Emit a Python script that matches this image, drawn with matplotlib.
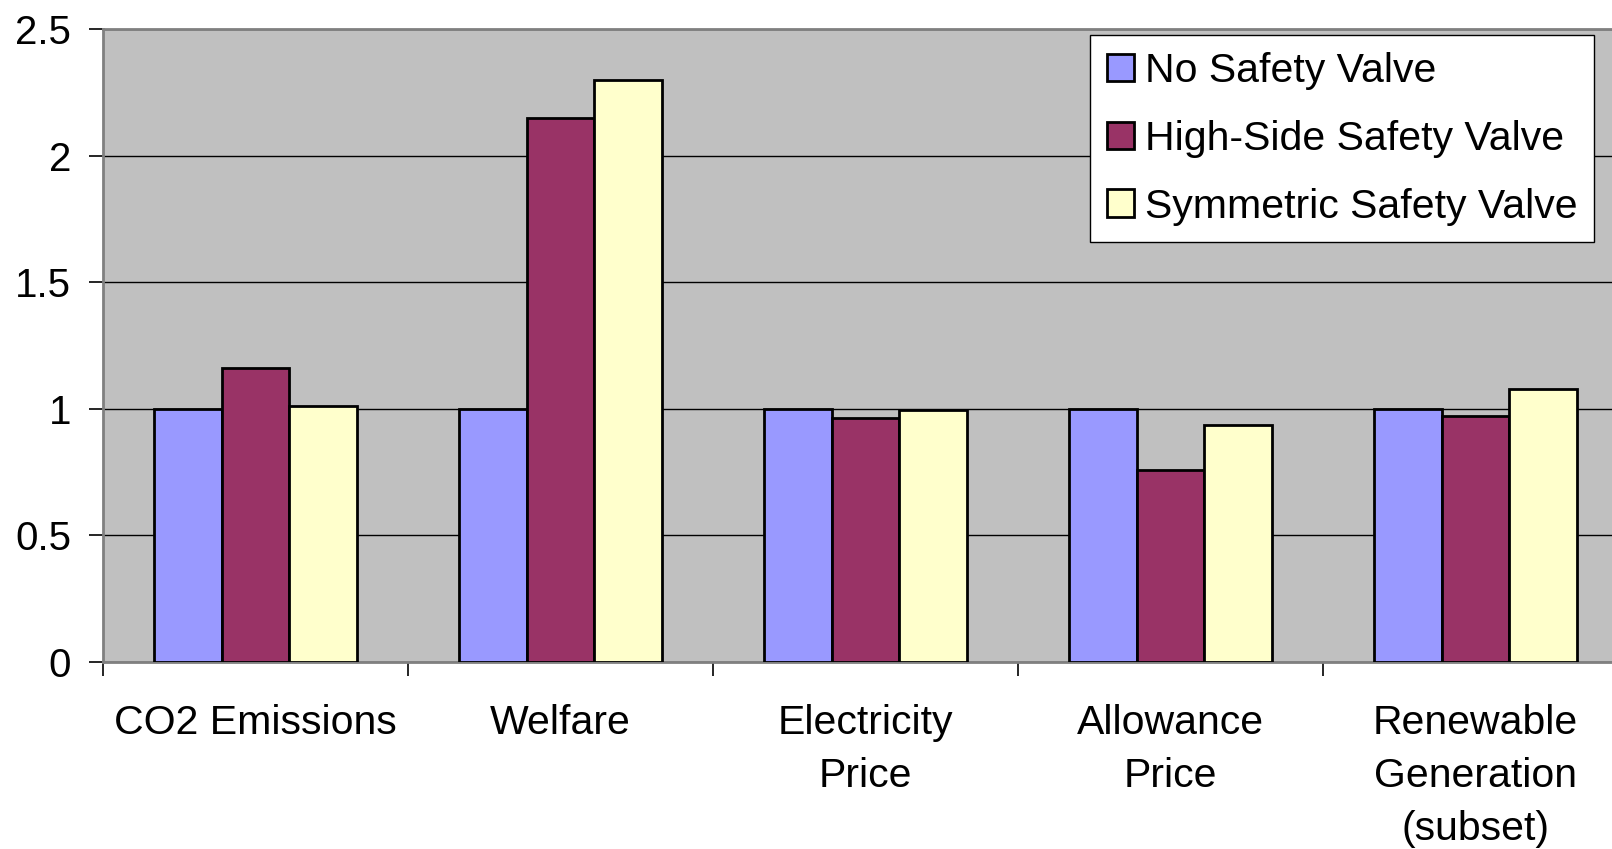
import matplotlib
matplotlib.use("Agg")
import matplotlib.pyplot as plt
import numpy as np

categories = ["CO2 Emissions", "Welfare", "Electricity\nPrice", "Allowance\nPrice", "Renewable\nGeneration\n(subset)"]
series_names = ["No Safety Valve", "High-Side Safety Valve", "Symmetric Safety Valve"]
no_valve = [1.0, 1.0, 1.0, 1.0, 1.0]
high_side = [1.16, 2.15, 0.965, 0.76, 0.973]
symmetric = [1.01, 2.30, 0.997, 0.937, 1.077]
colors = ["#9999FF", "#993366", "#FFFFCC"]
yticks = [0, 0.5, 1, 1.5, 2, 2.5]
ytick_labels = ["0", "0.5", "1", "1.5", "2", "2.5"]

plt.rcParams['font.family'] = ['Liberation Sans', 'DejaVu Sans']

W, H = 1612, 849
fig = plt.figure(figsize=(W/100, H/100), dpi=100)
left_px, top_px, bottom_px = 103, 29, 662
ax = fig.add_axes([left_px/W, 1 - bottom_px/H, 1 - left_px/W, (bottom_px - top_px)/H])
ax.set_facecolor("#C0C0C0")

cat_px = 305.0
x = np.arange(len(categories))
bw = 0.222
for i, (vals, c, name) in enumerate(zip([no_valve, high_side, symmetric], colors, series_names)):
    ax.bar(x + (i - 1) * bw, vals, width=bw, color=c, edgecolor="black", linewidth=2.0,
           label=name, zorder=3)

ax.set_yticks(yticks)
ax.set_yticklabels(ytick_labels)
ax.yaxis.grid(True, color="black", linewidth=1.0, zorder=1)
ax.set_axisbelow(True)

ax.set_xticks(np.arange(len(categories) + 1) - 0.5)
ax.set_xticklabels([])
ax.set_xticks(x, minor=True)
ax.set_xticklabels(categories, minor=True, fontsize=29.5, linespacing=1.5, va="top")
ax.tick_params(axis="x", which="minor", length=0, pad=30)
ax.tick_params(axis="x", which="major", length=10, width=1.2, color="black", direction="out")
ax.tick_params(axis="y", which="major", length=10, width=1.2, color="black", labelsize=29, pad=13)

ax.set_ylim(0, 2.5)
ax.set_xlim(-0.5, -0.5 + (W - left_px) / cat_px)

for s in ["left", "top", "bottom"]:
    ax.spines[s].set_color("#808080")
    ax.spines[s].set_linewidth(2.0)
ax.spines["right"].set_visible(False)

leg = fig.legend(loc="upper left", bbox_to_anchor=(1090/W, 1 - 35/H), fontsize=29.5,
                 frameon=True, fancybox=False, edgecolor="black", facecolor="white",
                 framealpha=1, handlelength=0.66, handleheight=0.66, handletextpad=0.27,
                 labelspacing=0.73, borderpad=0.41, borderaxespad=0)
leg.get_frame().set_linewidth(1.0)
for h in leg.legend_handles:
    h.set_linewidth(2.0)

fig.savefig("out.png", dpi=100)
